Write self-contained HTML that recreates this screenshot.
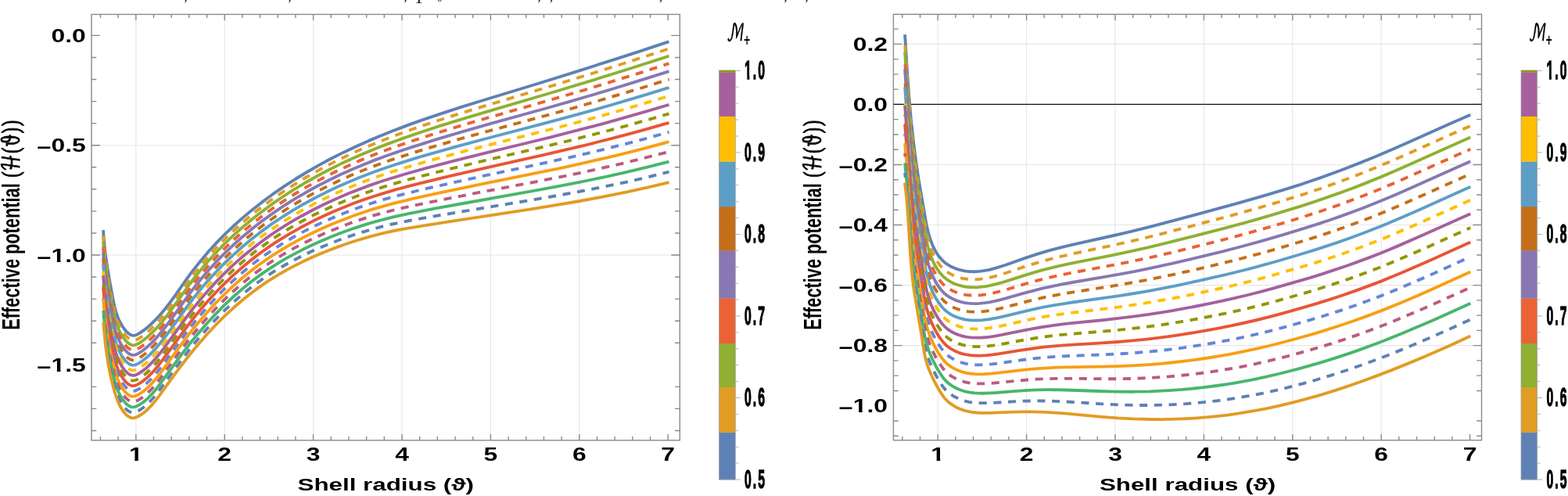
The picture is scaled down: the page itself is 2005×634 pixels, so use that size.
<!DOCTYPE html>
<html><head><meta charset="utf-8"><style>
html,body{margin:0;padding:0;background:#fff;overflow:hidden}
svg{display:block}
</style></head><body>
<svg width="2005" height="634" viewBox="0 0 2005 634">
<defs><clipPath id="c1"><rect x="-400" y="-400" width="800" height="396.72"/><rect x="-48.17" y="-400" width="14.59" height="420"/><rect x="-28.20" y="-400" width="3.52" height="420"/><rect x="-20.47" y="-400" width="7.15" height="420"/><rect x="-13.71" y="-400" width="13.91" height="420"/></clipPath><clipPath id="c2"><rect x="-400" y="-400" width="800" height="396.72"/><rect x="-48.17" y="-400" width="14.59" height="420"/><rect x="-28.20" y="-400" width="3.52" height="420"/><rect x="-20.47" y="-400" width="7.15" height="420"/><rect x="-13.71" y="-400" width="13.91" height="420"/></clipPath><clipPath id="c3"><rect x="-400" y="-400" width="800" height="396.72"/><rect x="-48.17" y="-400" width="14.59" height="420"/><rect x="-28.20" y="-400" width="3.52" height="420"/><rect x="-20.47" y="-400" width="7.15" height="420"/><rect x="-13.71" y="-400" width="13.91" height="420"/></clipPath><clipPath id="c4"><rect x="-400" y="-400" width="800" height="396.72"/><rect x="-1.18" y="-400" width="3.52" height="420"/></clipPath><clipPath id="c5"><rect x="-400" y="-400" width="800" height="396.72"/><rect x="-1.18" y="-400" width="3.52" height="420"/></clipPath><clipPath id="c6"><rect x="-400" y="-400" width="800" height="395.12"/><rect x="7.06" y="-400" width="6.17" height="420"/><rect x="22.69" y="-400" width="9.74" height="420"/><rect x="36.22" y="-400" width="19.09" height="420"/></clipPath><clipPath id="c7"><rect x="-400" y="-400" width="800" height="395.12"/><rect x="7.06" y="-400" width="6.17" height="420"/><rect x="22.69" y="-400" width="9.74" height="420"/><rect x="36.22" y="-400" width="19.09" height="420"/></clipPath></defs>
<rect width="2005" height="634" fill="#fff"/>
<line x1="173.80" y1="18.40" x2="173.80" y2="562.80" stroke="#e6e6e6" stroke-width="1.1"/>
<line x1="287.20" y1="18.40" x2="287.20" y2="562.80" stroke="#e6e6e6" stroke-width="1.1"/>
<line x1="400.60" y1="18.40" x2="400.60" y2="562.80" stroke="#e6e6e6" stroke-width="1.1"/>
<line x1="514.00" y1="18.40" x2="514.00" y2="562.80" stroke="#e6e6e6" stroke-width="1.1"/>
<line x1="627.40" y1="18.40" x2="627.40" y2="562.80" stroke="#e6e6e6" stroke-width="1.1"/>
<line x1="740.80" y1="18.40" x2="740.80" y2="562.80" stroke="#e6e6e6" stroke-width="1.1"/>
<line x1="117.00" y1="185.70" x2="869.30" y2="185.70" stroke="#e6e6e6" stroke-width="1.1"/>
<line x1="117.00" y1="326.00" x2="869.30" y2="326.00" stroke="#e6e6e6" stroke-width="1.1"/>
<rect x="117.00" y="18.40" width="752.30" height="544.40" fill="none" stroke="#8a8a8a" stroke-width="1.4"/>
<path d="M128.44 562.80v-4.7M128.44 18.40v4.7M151.12 562.80v-4.7M151.12 18.40v4.7M173.80 562.80v-7.7M173.80 18.40v7.7M196.48 562.80v-4.7M196.48 18.40v4.7M219.16 562.80v-4.7M219.16 18.40v4.7M241.84 562.80v-4.7M241.84 18.40v4.7M264.52 562.80v-4.7M264.52 18.40v4.7M287.20 562.80v-7.7M287.20 18.40v7.7M309.88 562.80v-4.7M309.88 18.40v4.7M332.56 562.80v-4.7M332.56 18.40v4.7M355.24 562.80v-4.7M355.24 18.40v4.7M377.92 562.80v-4.7M377.92 18.40v4.7M400.60 562.80v-7.7M400.60 18.40v7.7M423.28 562.80v-4.7M423.28 18.40v4.7M445.96 562.80v-4.7M445.96 18.40v4.7M468.64 562.80v-4.7M468.64 18.40v4.7M491.32 562.80v-4.7M491.32 18.40v4.7M514.00 562.80v-7.7M514.00 18.40v7.7M536.68 562.80v-4.7M536.68 18.40v4.7M559.36 562.80v-4.7M559.36 18.40v4.7M582.04 562.80v-4.7M582.04 18.40v4.7M604.72 562.80v-4.7M604.72 18.40v4.7M627.40 562.80v-7.7M627.40 18.40v7.7M650.08 562.80v-4.7M650.08 18.40v4.7M672.76 562.80v-4.7M672.76 18.40v4.7M695.44 562.80v-4.7M695.44 18.40v4.7M718.12 562.80v-4.7M718.12 18.40v4.7M740.80 562.80v-7.7M740.80 18.40v7.7M763.48 562.80v-4.7M763.48 18.40v4.7M786.16 562.80v-4.7M786.16 18.40v4.7M808.84 562.80v-4.7M808.84 18.40v4.7M831.52 562.80v-4.7M831.52 18.40v4.7M854.20 562.80v-7.7M854.20 18.40v7.7M117.00 45.40h11M869.30 45.40h-11M117.00 185.70h11M869.30 185.70h-11M117.00 326.00h11M869.30 326.00h-11M117.00 550.48h6.3M869.30 550.48h-6.3M117.00 522.42h6.3M869.30 522.42h-6.3M117.00 494.36h6.3M869.30 494.36h-6.3M117.00 438.24h6.3M869.30 438.24h-6.3M117.00 410.18h6.3M869.30 410.18h-6.3M117.00 382.12h6.3M869.30 382.12h-6.3M117.00 354.06h6.3M869.30 354.06h-6.3M117.00 297.94h6.3M869.30 297.94h-6.3M117.00 269.88h6.3M869.30 269.88h-6.3M117.00 241.82h6.3M869.30 241.82h-6.3M117.00 213.76h6.3M869.30 213.76h-6.3M117.00 157.64h6.3M869.30 157.64h-6.3M117.00 129.58h6.3M869.30 129.58h-6.3M117.00 101.52h6.3M869.30 101.52h-6.3M117.00 73.46h6.3M869.30 73.46h-6.3" stroke="#8a8a8a" stroke-width="1.4" fill="none"/>
<line x1="1199.20" y1="18.30" x2="1199.20" y2="562.70" stroke="#e6e6e6" stroke-width="1.1"/>
<line x1="1312.60" y1="18.30" x2="1312.60" y2="562.70" stroke="#e6e6e6" stroke-width="1.1"/>
<line x1="1426.00" y1="18.30" x2="1426.00" y2="562.70" stroke="#e6e6e6" stroke-width="1.1"/>
<line x1="1539.40" y1="18.30" x2="1539.40" y2="562.70" stroke="#e6e6e6" stroke-width="1.1"/>
<line x1="1652.80" y1="18.30" x2="1652.80" y2="562.70" stroke="#e6e6e6" stroke-width="1.1"/>
<line x1="1766.20" y1="18.30" x2="1766.20" y2="562.70" stroke="#e6e6e6" stroke-width="1.1"/>
<line x1="1142.40" y1="56.34" x2="1894.50" y2="56.34" stroke="#e6e6e6" stroke-width="1.1"/>
<line x1="1142.40" y1="210.46" x2="1894.50" y2="210.46" stroke="#e6e6e6" stroke-width="1.1"/>
<line x1="1142.40" y1="287.52" x2="1894.50" y2="287.52" stroke="#e6e6e6" stroke-width="1.1"/>
<line x1="1142.40" y1="364.58" x2="1894.50" y2="364.58" stroke="#e6e6e6" stroke-width="1.1"/>
<line x1="1142.40" y1="441.64" x2="1894.50" y2="441.64" stroke="#e6e6e6" stroke-width="1.1"/>
<rect x="1142.40" y="18.30" width="752.10" height="544.40" fill="none" stroke="#8a8a8a" stroke-width="1.4"/>
<path d="M1153.84 562.70v-4.7M1153.84 18.30v4.7M1176.52 562.70v-4.7M1176.52 18.30v4.7M1199.20 562.70v-7.7M1199.20 18.30v7.7M1221.88 562.70v-4.7M1221.88 18.30v4.7M1244.56 562.70v-4.7M1244.56 18.30v4.7M1267.24 562.70v-4.7M1267.24 18.30v4.7M1289.92 562.70v-4.7M1289.92 18.30v4.7M1312.60 562.70v-7.7M1312.60 18.30v7.7M1335.28 562.70v-4.7M1335.28 18.30v4.7M1357.96 562.70v-4.7M1357.96 18.30v4.7M1380.64 562.70v-4.7M1380.64 18.30v4.7M1403.32 562.70v-4.7M1403.32 18.30v4.7M1426.00 562.70v-7.7M1426.00 18.30v7.7M1448.68 562.70v-4.7M1448.68 18.30v4.7M1471.36 562.70v-4.7M1471.36 18.30v4.7M1494.04 562.70v-4.7M1494.04 18.30v4.7M1516.72 562.70v-4.7M1516.72 18.30v4.7M1539.40 562.70v-7.7M1539.40 18.30v7.7M1562.08 562.70v-4.7M1562.08 18.30v4.7M1584.76 562.70v-4.7M1584.76 18.30v4.7M1607.44 562.70v-4.7M1607.44 18.30v4.7M1630.12 562.70v-4.7M1630.12 18.30v4.7M1652.80 562.70v-7.7M1652.80 18.30v7.7M1675.48 562.70v-4.7M1675.48 18.30v4.7M1698.16 562.70v-4.7M1698.16 18.30v4.7M1720.84 562.70v-4.7M1720.84 18.30v4.7M1743.52 562.70v-4.7M1743.52 18.30v4.7M1766.20 562.70v-7.7M1766.20 18.30v7.7M1788.88 562.70v-4.7M1788.88 18.30v4.7M1811.56 562.70v-4.7M1811.56 18.30v4.7M1834.24 562.70v-4.7M1834.24 18.30v4.7M1856.92 562.70v-4.7M1856.92 18.30v4.7M1879.60 562.70v-7.7M1879.60 18.30v7.7M1142.40 56.34h11M1894.50 56.34h-11M1142.40 133.40h11M1894.50 133.40h-11M1142.40 210.46h11M1894.50 210.46h-11M1142.40 287.52h11M1894.50 287.52h-11M1142.40 364.58h11M1894.50 364.58h-11M1142.40 441.64h11M1894.50 441.64h-11M1142.40 557.23h6.3M1894.50 557.23h-6.3M1142.40 537.97h6.3M1894.50 537.97h-6.3M1142.40 499.43h6.3M1894.50 499.43h-6.3M1142.40 480.17h6.3M1894.50 480.17h-6.3M1142.40 460.90h6.3M1894.50 460.90h-6.3M1142.40 422.38h6.3M1894.50 422.38h-6.3M1142.40 403.11h6.3M1894.50 403.11h-6.3M1142.40 383.85h6.3M1894.50 383.85h-6.3M1142.40 345.32h6.3M1894.50 345.32h-6.3M1142.40 326.05h6.3M1894.50 326.05h-6.3M1142.40 306.79h6.3M1894.50 306.79h-6.3M1142.40 268.25h6.3M1894.50 268.25h-6.3M1142.40 248.99h6.3M1894.50 248.99h-6.3M1142.40 229.73h6.3M1894.50 229.73h-6.3M1142.40 191.19h6.3M1894.50 191.19h-6.3M1142.40 171.93h6.3M1894.50 171.93h-6.3M1142.40 152.67h6.3M1894.50 152.67h-6.3M1142.40 114.14h6.3M1894.50 114.14h-6.3M1142.40 94.87h6.3M1894.50 94.87h-6.3M1142.40 75.61h6.3M1894.50 75.61h-6.3M1142.40 37.08h6.3M1894.50 37.08h-6.3" stroke="#8a8a8a" stroke-width="1.4" fill="none"/>
<line x1="1142.40" y1="133.40" x2="1894.50" y2="133.40" stroke="#111" stroke-width="1.3"/>
<text transform="translate(109.80,54.00) scale(1.31,1)" text-anchor="end" style="font-family:'Liberation Sans',Arial,sans-serif;font-weight:bold;font-size:24.3px">0.0</text>
<text transform="translate(109.80,194.30) scale(1.31,1)" text-anchor="end" style="font-family:'Liberation Sans',Arial,sans-serif;font-weight:bold;font-size:24.3px"><tspan dy="2.9">−</tspan><tspan dy="-2.9">0.5</tspan></text>
<text transform="translate(109.80,334.60) scale(1.31,1)" text-anchor="end" clip-path="url(#c1)" style="font-family:'Liberation Sans',Arial,sans-serif;font-weight:bold;font-size:24.3px"><tspan dy="2.9">−</tspan><tspan dy="-2.9">1.0</tspan></text>
<text transform="translate(109.80,474.90) scale(1.31,1)" text-anchor="end" clip-path="url(#c2)" style="font-family:'Liberation Sans',Arial,sans-serif;font-weight:bold;font-size:24.3px"><tspan dy="2.9">−</tspan><tspan dy="-2.9">1.5</tspan></text>
<text transform="translate(1135.00,64.64) scale(1.31,1)" text-anchor="end" style="font-family:'Liberation Sans',Arial,sans-serif;font-weight:bold;font-size:24.3px">0.2</text>
<text transform="translate(1135.00,141.70) scale(1.31,1)" text-anchor="end" style="font-family:'Liberation Sans',Arial,sans-serif;font-weight:bold;font-size:24.3px">0.0</text>
<text transform="translate(1135.00,218.76) scale(1.31,1)" text-anchor="end" style="font-family:'Liberation Sans',Arial,sans-serif;font-weight:bold;font-size:24.3px"><tspan dy="2.9">−</tspan><tspan dy="-2.9">0.2</tspan></text>
<text transform="translate(1135.00,295.82) scale(1.31,1)" text-anchor="end" style="font-family:'Liberation Sans',Arial,sans-serif;font-weight:bold;font-size:24.3px"><tspan dy="2.9">−</tspan><tspan dy="-2.9">0.4</tspan></text>
<text transform="translate(1135.00,372.88) scale(1.31,1)" text-anchor="end" style="font-family:'Liberation Sans',Arial,sans-serif;font-weight:bold;font-size:24.3px"><tspan dy="2.9">−</tspan><tspan dy="-2.9">0.6</tspan></text>
<text transform="translate(1135.00,449.94) scale(1.31,1)" text-anchor="end" style="font-family:'Liberation Sans',Arial,sans-serif;font-weight:bold;font-size:24.3px"><tspan dy="2.9">−</tspan><tspan dy="-2.9">0.8</tspan></text>
<text transform="translate(1135.00,527.00) scale(1.31,1)" text-anchor="end" clip-path="url(#c3)" style="font-family:'Liberation Sans',Arial,sans-serif;font-weight:bold;font-size:24.3px"><tspan dy="2.9">−</tspan><tspan dy="-2.9">1.0</tspan></text>
<text transform="translate(173.80,589.00) scale(1.31,1)" text-anchor="middle" clip-path="url(#c4)" style="font-family:'Liberation Sans',Arial,sans-serif;font-weight:bold;font-size:24.3px">1</text>
<text transform="translate(287.20,589.00) scale(1.31,1)" text-anchor="middle" style="font-family:'Liberation Sans',Arial,sans-serif;font-weight:bold;font-size:24.3px">2</text>
<text transform="translate(400.60,589.00) scale(1.31,1)" text-anchor="middle" style="font-family:'Liberation Sans',Arial,sans-serif;font-weight:bold;font-size:24.3px">3</text>
<text transform="translate(514.00,589.00) scale(1.31,1)" text-anchor="middle" style="font-family:'Liberation Sans',Arial,sans-serif;font-weight:bold;font-size:24.3px">4</text>
<text transform="translate(627.40,589.00) scale(1.31,1)" text-anchor="middle" style="font-family:'Liberation Sans',Arial,sans-serif;font-weight:bold;font-size:24.3px">5</text>
<text transform="translate(740.80,589.00) scale(1.31,1)" text-anchor="middle" style="font-family:'Liberation Sans',Arial,sans-serif;font-weight:bold;font-size:24.3px">6</text>
<text transform="translate(854.20,589.00) scale(1.31,1)" text-anchor="middle" style="font-family:'Liberation Sans',Arial,sans-serif;font-weight:bold;font-size:24.3px">7</text>
<text transform="translate(1199.20,589.00) scale(1.31,1)" text-anchor="middle" clip-path="url(#c5)" style="font-family:'Liberation Sans',Arial,sans-serif;font-weight:bold;font-size:24.3px">1</text>
<text transform="translate(1312.60,589.00) scale(1.31,1)" text-anchor="middle" style="font-family:'Liberation Sans',Arial,sans-serif;font-weight:bold;font-size:24.3px">2</text>
<text transform="translate(1426.00,589.00) scale(1.31,1)" text-anchor="middle" style="font-family:'Liberation Sans',Arial,sans-serif;font-weight:bold;font-size:24.3px">3</text>
<text transform="translate(1539.40,589.00) scale(1.31,1)" text-anchor="middle" style="font-family:'Liberation Sans',Arial,sans-serif;font-weight:bold;font-size:24.3px">4</text>
<text transform="translate(1652.80,589.00) scale(1.31,1)" text-anchor="middle" style="font-family:'Liberation Sans',Arial,sans-serif;font-weight:bold;font-size:24.3px">5</text>
<text transform="translate(1766.20,589.00) scale(1.31,1)" text-anchor="middle" style="font-family:'Liberation Sans',Arial,sans-serif;font-weight:bold;font-size:24.3px">6</text>
<text transform="translate(1879.60,589.00) scale(1.31,1)" text-anchor="middle" style="font-family:'Liberation Sans',Arial,sans-serif;font-weight:bold;font-size:24.3px">7</text>
<text transform="translate(493.19,627.2) scale(1.393,1)" text-anchor="middle" style="font-family:'Liberation Sans',Arial,sans-serif;font-weight:bold;font-size:22.5px">Shell radius (ϑ)</text>
<text transform="translate(1518.59,627.2) scale(1.393,1)" text-anchor="middle" style="font-family:'Liberation Sans',Arial,sans-serif;font-weight:bold;font-size:22.5px">Shell radius (ϑ)</text>
<text transform="translate(24.80,287) scale(1.38,0.9675) rotate(-90)" text-anchor="middle" style="font-family:'Liberation Sans',Arial,sans-serif;font-weight:bold;font-size:22.5px">Effective potential <tspan style="font-family:'DejaVu Math TeX Gyre','DejaVu Sans',sans-serif;font-weight:normal;stroke:#000;stroke-width:0.7px">(ℋ(ϑ))</tspan></text>
<text transform="translate(1050.00,287) scale(1.38,0.9675) rotate(-90)" text-anchor="middle" style="font-family:'Liberation Sans',Arial,sans-serif;font-weight:bold;font-size:22.5px">Effective potential <tspan style="font-family:'DejaVu Math TeX Gyre','DejaVu Sans',sans-serif;font-weight:normal;stroke:#000;stroke-width:0.7px">(ℋ(ϑ))</tspan></text>
<text x="235.5" y="0.7" style="font-family:'Liberation Serif',serif;font-size:16px">,</text>
<text x="368.5" y="0.7" style="font-family:'Liberation Serif',serif;font-size:16px">,</text>
<text x="516.5" y="0.7" style="font-family:'Liberation Serif',serif;font-size:16px">,</text>
<text x="687.5" y="0.7" style="font-family:'Liberation Serif',serif;font-size:16px">,</text>
<text x="703.0" y="0.7" style="font-family:'Liberation Serif',serif;font-size:16px">,</text>
<text x="843.0" y="0.7" style="font-family:'Liberation Serif',serif;font-size:16px">,</text>
<text x="1002.5" y="0.7" style="font-family:'Liberation Serif',serif;font-size:16px">,</text>
<text x="1029.5" y="0.7" style="font-family:'Liberation Serif',serif;font-size:16px">,</text>
<text x="530.2" y="3.7" style="font-family:'Liberation Serif',serif;font-size:21px">1</text>
<text x="559.6" y="1.5" style="font-family:'Liberation Serif',serif;font-size:11px">o</text>
<rect x="919.5" y="552.50" width="20.80" height="60.80" fill="#5E81B5"/>
<rect x="919.5" y="495.10" width="20.80" height="57.70" fill="#E19C24"/>
<rect x="919.5" y="438.90" width="20.80" height="56.50" fill="#8FB032"/>
<rect x="919.5" y="381.30" width="20.80" height="57.90" fill="#EB6235"/>
<rect x="919.5" y="320.10" width="20.80" height="61.50" fill="#8778B3"/>
<rect x="919.5" y="264.00" width="20.80" height="56.40" fill="#C56E1A"/>
<rect x="919.5" y="206.30" width="20.80" height="58.00" fill="#5D9EC7"/>
<rect x="919.5" y="148.60" width="20.80" height="58.00" fill="#FFBF00"/>
<rect x="919.5" y="92.30" width="20.80" height="56.60" fill="#A5609D"/>
<rect x="919.5" y="89.90" width="20.80" height="2.70" fill="#929600"/>
<rect x="919.5" y="89.90" width="20.80" height="523.10" fill="none" stroke="#a0a0a0" stroke-width="0.8"/>
<path d="M940.30 613.00h6.5M940.30 592.10h4M940.30 571.19h4M940.30 550.29h4M940.30 529.38h4M940.30 508.48h6.5M940.30 487.58h4M940.30 466.67h4M940.30 445.77h4M940.30 424.86h4M940.30 403.96h6.5M940.30 383.06h4M940.30 362.15h4M940.30 341.25h4M940.30 320.34h4M940.30 299.44h6.5M940.30 278.54h4M940.30 257.63h4M940.30 236.73h4M940.30 215.82h4M940.30 194.92h6.5M940.30 174.02h4M940.30 153.11h4M940.30 132.21h4M940.30 111.30h4M940.30 90.40h6.5" stroke="#b0b0b0" stroke-width="1" fill="none"/>
<text transform="translate(952.10,623.70) scale(0.47,1)" style="font-family:'Liberation Sans',Arial,sans-serif;font-weight:bold;font-size:33.6px;letter-spacing:4.2px;stroke:#000;stroke-width:1.3px">0.5</text>
<text transform="translate(952.10,519.18) scale(0.47,1)" style="font-family:'Liberation Sans',Arial,sans-serif;font-weight:bold;font-size:33.6px;letter-spacing:4.2px;stroke:#000;stroke-width:1.3px">0.6</text>
<text transform="translate(952.10,414.66) scale(0.47,1)" style="font-family:'Liberation Sans',Arial,sans-serif;font-weight:bold;font-size:33.6px;letter-spacing:4.2px;stroke:#000;stroke-width:1.3px">0.7</text>
<text transform="translate(952.10,310.14) scale(0.47,1)" style="font-family:'Liberation Sans',Arial,sans-serif;font-weight:bold;font-size:33.6px;letter-spacing:4.2px;stroke:#000;stroke-width:1.3px">0.8</text>
<text transform="translate(952.10,205.62) scale(0.47,1)" style="font-family:'Liberation Sans',Arial,sans-serif;font-weight:bold;font-size:33.6px;letter-spacing:4.2px;stroke:#000;stroke-width:1.3px">0.9</text>
<text transform="translate(952.10,101.10) scale(0.47,1)" clip-path="url(#c6)" style="font-family:'Liberation Sans',Arial,sans-serif;font-weight:bold;font-size:33.6px;letter-spacing:4.2px;stroke:#000;stroke-width:1.3px">1.0</text>
<text transform="translate(929.00,52.3) scale(0.61,1)" style="font-family:'DejaVu Math TeX Gyre','DejaVu Sans',sans-serif;font-size:30px;stroke:#000;stroke-width:0.4px">ℳ</text>
<text transform="translate(950.50,56.5) scale(0.62,1)" style="font-family:'DejaVu Sans',sans-serif;font-weight:bold;font-size:18px">+</text>
<rect x="1945.0" y="552.50" width="20.60" height="60.80" fill="#5E81B5"/>
<rect x="1945.0" y="495.10" width="20.60" height="57.70" fill="#E19C24"/>
<rect x="1945.0" y="438.90" width="20.60" height="56.50" fill="#8FB032"/>
<rect x="1945.0" y="381.30" width="20.60" height="57.90" fill="#EB6235"/>
<rect x="1945.0" y="320.10" width="20.60" height="61.50" fill="#8778B3"/>
<rect x="1945.0" y="264.00" width="20.60" height="56.40" fill="#C56E1A"/>
<rect x="1945.0" y="206.30" width="20.60" height="58.00" fill="#5D9EC7"/>
<rect x="1945.0" y="148.60" width="20.60" height="58.00" fill="#FFBF00"/>
<rect x="1945.0" y="92.30" width="20.60" height="56.60" fill="#A5609D"/>
<rect x="1945.0" y="89.90" width="20.60" height="2.70" fill="#929600"/>
<rect x="1945.0" y="89.90" width="20.60" height="523.10" fill="none" stroke="#a0a0a0" stroke-width="0.8"/>
<path d="M1965.60 613.00h6.5M1965.60 592.10h4M1965.60 571.19h4M1965.60 550.29h4M1965.60 529.38h4M1965.60 508.48h6.5M1965.60 487.58h4M1965.60 466.67h4M1965.60 445.77h4M1965.60 424.86h4M1965.60 403.96h6.5M1965.60 383.06h4M1965.60 362.15h4M1965.60 341.25h4M1965.60 320.34h4M1965.60 299.44h6.5M1965.60 278.54h4M1965.60 257.63h4M1965.60 236.73h4M1965.60 215.82h4M1965.60 194.92h6.5M1965.60 174.02h4M1965.60 153.11h4M1965.60 132.21h4M1965.60 111.30h4M1965.60 90.40h6.5" stroke="#b0b0b0" stroke-width="1" fill="none"/>
<text transform="translate(1977.60,623.70) scale(0.47,1)" style="font-family:'Liberation Sans',Arial,sans-serif;font-weight:bold;font-size:33.6px;letter-spacing:4.2px;stroke:#000;stroke-width:1.3px">0.5</text>
<text transform="translate(1977.60,519.18) scale(0.47,1)" style="font-family:'Liberation Sans',Arial,sans-serif;font-weight:bold;font-size:33.6px;letter-spacing:4.2px;stroke:#000;stroke-width:1.3px">0.6</text>
<text transform="translate(1977.60,414.66) scale(0.47,1)" style="font-family:'Liberation Sans',Arial,sans-serif;font-weight:bold;font-size:33.6px;letter-spacing:4.2px;stroke:#000;stroke-width:1.3px">0.7</text>
<text transform="translate(1977.60,310.14) scale(0.47,1)" style="font-family:'Liberation Sans',Arial,sans-serif;font-weight:bold;font-size:33.6px;letter-spacing:4.2px;stroke:#000;stroke-width:1.3px">0.8</text>
<text transform="translate(1977.60,205.62) scale(0.47,1)" style="font-family:'Liberation Sans',Arial,sans-serif;font-weight:bold;font-size:33.6px;letter-spacing:4.2px;stroke:#000;stroke-width:1.3px">0.9</text>
<text transform="translate(1977.60,101.10) scale(0.47,1)" clip-path="url(#c7)" style="font-family:'Liberation Sans',Arial,sans-serif;font-weight:bold;font-size:33.6px;letter-spacing:4.2px;stroke:#000;stroke-width:1.3px">1.0</text>
<text transform="translate(1954.50,52.3) scale(0.61,1)" style="font-family:'DejaVu Math TeX Gyre','DejaVu Sans',sans-serif;font-size:30px;stroke:#000;stroke-width:0.4px">ℳ</text>
<text transform="translate(1976.00,56.5) scale(0.62,1)" style="font-family:'DejaVu Sans',sans-serif;font-weight:bold;font-size:18px">+</text>
<path d="M132.0 294.2 132.8 305.6 133.9 316.6 135.2 327.9 137.3 341.7 140.1 358.4 144.8 384.0 146.3 391.3 148.5 399.5 150.8 406.0 152.0 408.8 153.9 412.5 157.1 417.9 159.1 420.7 161.1 423.2 163.2 425.3 164.7 426.5 166.1 427.5 167.6 428.2 169.1 428.7 170.7 428.8 172.2 428.7 173.8 428.3 176.2 427.2 179.5 425.2 183.8 422.2 188.2 418.7 192.7 414.8 196.4 411.2 200.2 407.4 204.0 403.2 210.0 396.2 216.1 388.4 223.5 378.3 236.6 359.7 243.4 350.2 250.4 341.1 257.6 332.2 267.3 320.8 277.3 309.9 287.6 299.4 298.2 289.3 310.4 278.4 322.9 267.9 335.7 257.9 348.9 248.2 363.8 237.9 377.6 229.0 393.2 219.5 409.2 210.4 422.3 203.3 439.0 194.9 454.2 187.7 471.5 179.9 485.6 174.0 501.7 167.5 521.8 159.9 538.5 153.9 563.0 145.6 588.1 137.4 621.7 127.0 687.4 107.0 734.4 92.4 791.6 74.1 818.7 65.3 853.2 53.9 855.5 53.3" fill="none" stroke="#5E81B5" stroke-width="3.85" stroke-linejoin="round"/>
<path d="M132.0 301.4 132.8 312.5 134.1 325.8 135.2 334.9 137.3 348.8 140.1 365.4 144.2 388.0 146.3 397.9 148.5 405.9 150.8 412.4 152.0 415.2 153.9 418.9 157.1 424.3 159.1 427.0 161.1 429.5 162.5 430.9 164.7 432.8 166.1 433.7 167.6 434.4 169.1 434.9 170.7 435.0 172.2 434.9 173.8 434.5 176.2 433.4 179.5 431.4 182.9 429.0 187.3 425.6 190.8 422.5 195.4 418.2 199.2 414.4 203.1 410.2 209.0 403.2 215.1 395.5 223.5 384.1 242.3 357.6 249.2 348.4 256.4 339.5 266.1 328.1 277.3 315.8 287.6 305.3 298.2 295.2 310.4 284.3 322.9 273.8 335.7 263.8 348.9 254.1 362.3 244.9 376.1 236.0 391.7 226.5 406.0 218.4 419.0 211.4 435.6 203.0 450.8 195.8 466.3 188.9 482.1 182.3 498.1 175.9 518.1 168.5 534.7 162.6 561.1 153.7 592.0 143.9 623.7 134.3 700.1 111.4 758.4 93.5 802.9 79.4 853.2 63.0 855.5 62.4" fill="none" stroke="#E19C24" stroke-width="3.85" stroke-linejoin="round" stroke-dasharray="10.1 8.6" stroke-dashoffset="2.50"/>
<path d="M132.0 308.6 132.8 319.5 134.1 332.8 135.9 346.6 137.6 358.2 140.1 372.4 144.2 394.8 146.3 404.4 148.5 412.4 150.8 418.9 152.0 421.7 153.9 425.4 155.1 427.6 157.1 430.7 159.1 433.4 160.4 435.1 162.5 437.3 163.9 438.5 165.4 439.6 167.6 440.7 169.1 441.1 170.7 441.3 172.2 441.1 173.8 440.7 176.2 439.6 179.5 437.6 183.8 434.6 187.3 431.8 190.8 428.7 194.5 425.2 198.3 421.4 202.1 417.3 208.0 410.4 215.1 401.4 222.4 391.4 242.3 363.5 249.2 354.3 256.4 345.4 261.2 339.7 267.3 332.6 277.3 321.7 287.6 311.2 298.2 301.1 310.4 290.2 322.9 279.8 332.9 272.0 347.4 261.2 360.8 252.0 374.5 243.1 390.1 233.7 406.0 224.7 420.7 217.0 435.6 209.6 449.1 203.3 464.6 196.5 482.1 189.2 494.5 184.4 514.4 177.1 532.9 170.7 561.1 161.4 592.0 151.8 629.8 140.6 700.1 120.0 756.2 103.1 802.9 88.5 853.2 72.3 855.5 71.7" fill="none" stroke="#8FB032" stroke-width="3.85" stroke-linejoin="round"/>
<path d="M132.0 315.8 132.8 326.5 134.1 339.8 135.9 353.7 137.6 365.3 140.1 379.5 144.2 401.5 146.3 411.0 148.5 418.9 150.8 425.4 152.0 428.1 153.9 431.9 155.1 434.1 157.1 437.1 160.4 441.5 162.5 443.7 163.9 444.9 165.4 445.9 166.9 446.7 169.1 447.4 170.7 447.6 172.2 447.4 173.8 447.0 176.2 445.9 178.7 444.4 182.1 442.1 186.4 438.8 189.9 435.7 193.6 432.3 197.3 428.6 201.1 424.5 207.0 417.6 214.0 408.6 220.3 400.2 242.3 369.5 249.2 360.3 257.6 350.0 267.3 338.7 277.3 327.8 287.6 317.3 298.2 307.2 310.4 296.3 322.9 285.9 335.7 275.9 348.9 266.3 362.3 257.2 376.1 248.5 390.1 240.1 404.4 232.1 417.4 225.3 433.9 217.1 447.4 210.9 462.9 204.1 480.3 197.0 492.8 192.3 509.0 186.4 529.1 179.5 557.3 170.4 576.5 164.5 595.9 158.7 629.8 148.9 702.2 128.2 749.6 114.3 800.6 98.7 825.6 90.8 853.2 81.9 855.5 81.3" fill="none" stroke="#EB6235" stroke-width="3.85" stroke-linejoin="round" stroke-dasharray="10.1 8.6" stroke-dashoffset="1.65"/>
<path d="M132.0 323.1 132.8 333.5 134.1 346.8 135.9 360.8 137.6 372.5 140.1 386.6 144.2 408.3 146.3 417.7 148.5 425.5 149.7 428.9 151.4 433.3 153.9 438.4 155.8 441.7 157.1 443.6 159.1 446.3 161.1 448.7 163.2 450.8 164.7 451.9 166.1 452.8 167.6 453.4 169.1 453.8 170.7 453.9 172.2 453.7 173.8 453.3 176.2 452.2 179.5 450.2 183.8 447.1 187.3 444.3 193.6 438.6 198.3 433.8 201.1 430.6 208.0 422.4 215.1 413.2 220.3 406.2 242.3 375.5 250.4 364.9 257.6 356.1 267.3 344.8 277.3 333.9 286.3 324.7 298.2 313.3 310.4 302.4 322.9 292.0 335.7 282.1 348.9 272.6 363.8 262.5 377.6 253.9 393.2 244.8 406.0 237.8 422.3 229.5 435.6 223.1 449.1 217.0 464.6 210.5 478.6 204.9 494.5 199.0 512.6 192.7 527.3 187.8 557.3 178.3 592.0 168.1 627.8 157.9 698.0 138.5 725.7 130.6 751.8 123.0 780.5 114.5 802.9 107.7 830.1 99.2 853.2 91.8 855.5 91.2" fill="none" stroke="#8778B3" stroke-width="3.85" stroke-linejoin="round"/>
<path d="M132.0 330.3 132.8 340.5 134.1 353.9 135.9 367.9 137.6 379.7 140.1 393.7 144.2 415.2 146.3 424.4 148.5 432.1 150.8 438.5 152.0 441.3 153.9 445.0 155.1 447.2 157.1 450.2 159.1 452.9 160.4 454.5 162.5 456.6 163.9 457.8 165.4 458.8 166.9 459.6 168.4 460.1 169.9 460.3 171.4 460.3 173.0 459.9 175.4 459.0 177.9 457.7 182.1 454.8 185.5 452.2 188.2 449.9 191.8 446.7 195.4 443.0 199.2 439.0 205.0 432.2 212.0 423.4 220.3 412.2 235.5 390.9 242.3 381.6 250.4 371.1 257.6 362.3 267.3 351.0 277.3 340.1 286.3 330.9 298.2 319.5 310.4 308.7 322.9 298.3 335.7 288.4 347.4 280.0 359.3 271.9 374.5 262.3 388.5 254.0 396.4 249.6 404.4 245.3 419.0 237.9 433.9 230.8 449.1 224.1 462.9 218.3 476.8 212.9 491.0 207.7 503.5 203.3 523.6 196.8 553.5 187.6 588.1 177.6 629.8 166.1 693.7 148.9 725.7 140.1 747.4 134.0 778.2 125.0 800.6 118.3 823.3 111.5 853.2 102.1 855.5 101.5" fill="none" stroke="#C56E1A" stroke-width="3.85" stroke-linejoin="round" stroke-dasharray="10.1 8.6" stroke-dashoffset="-0.30"/>
<path d="M132.0 337.6 133.2 351.8 134.4 363.3 135.9 375.1 138.0 389.2 140.9 405.6 144.2 422.1 146.3 431.1 148.5 438.8 150.8 445.1 152.0 447.9 153.9 451.6 155.1 453.8 157.1 456.8 160.4 461.0 162.5 463.1 163.9 464.3 165.4 465.3 166.9 466.1 168.4 466.6 169.9 466.8 171.4 466.7 173.0 466.4 175.4 465.4 177.9 464.1 182.1 461.3 185.5 458.6 188.2 456.4 191.8 453.1 195.4 449.4 199.2 445.3 205.0 438.4 212.0 429.5 220.3 418.3 240.0 390.9 246.9 381.8 255.2 371.4 260.0 365.6 266.1 358.6 274.8 349.1 285.0 338.5 296.9 327.1 309.0 316.2 321.5 305.8 332.9 296.9 340.1 291.6 347.4 286.4 362.3 276.5 374.5 268.9 388.5 260.7 402.8 253.0 417.4 245.6 432.3 238.6 445.7 232.7 459.4 227.0 475.0 221.0 487.4 216.5 499.9 212.2 519.9 205.8 536.6 200.7 551.6 196.3 586.2 186.7 629.8 175.0 700.1 156.7 727.9 149.2 751.8 142.6 780.5 134.5 802.9 127.9 825.6 121.1 853.2 112.6 855.5 112.0" fill="none" stroke="#5D9EC7" stroke-width="3.85" stroke-linejoin="round"/>
<path d="M132.0 345.0 133.2 358.9 134.4 370.4 136.2 384.7 138.0 396.5 140.1 408.1 143.8 426.6 146.3 437.8 148.5 445.4 150.8 451.8 153.2 457.0 154.5 459.3 156.4 462.4 159.7 466.9 161.8 469.1 163.2 470.3 165.4 471.9 166.9 472.6 168.4 473.1 169.9 473.3 171.4 473.2 173.0 472.9 175.4 471.9 177.9 470.6 181.2 468.4 184.6 465.8 188.2 462.9 191.8 459.5 198.3 452.7 204.0 445.9 209.0 439.7 218.2 427.3 234.4 404.8 241.1 395.6 248.1 386.6 256.4 376.3 267.3 363.6 277.3 352.7 287.6 342.3 298.2 332.2 310.4 321.4 322.9 311.1 334.3 302.3 347.4 293.0 359.3 285.0 374.5 275.6 390.1 266.7 402.8 259.9 415.8 253.4 430.6 246.5 444.0 240.7 459.4 234.4 475.0 228.5 489.2 223.5 501.7 219.4 519.9 213.8 549.7 205.2 586.2 195.4 627.8 184.6 672.8 173.3 704.3 165.3 751.8 152.8 776.0 146.1 805.1 137.8 832.4 129.7 853.2 123.4 855.5 122.8" fill="none" stroke="#FFBF00" stroke-width="3.85" stroke-linejoin="round" stroke-dasharray="10.1 8.6" stroke-dashoffset="-1.65"/>
<path d="M132.0 352.3 133.2 366.0 134.4 377.5 136.2 391.9 138.0 403.7 140.9 419.9 143.8 433.6 146.3 444.6 148.5 452.1 149.7 455.4 151.4 459.9 153.9 464.9 155.1 467.1 157.1 470.1 159.1 472.7 160.4 474.3 163.2 477.0 165.4 478.5 166.9 479.2 168.4 479.7 169.9 479.9 171.4 479.8 173.0 479.4 175.4 478.5 177.9 477.1 181.2 474.9 184.6 472.4 188.2 469.4 191.8 466.0 194.5 463.2 198.3 459.2 204.0 452.3 209.0 445.9 217.1 434.9 240.0 403.4 246.9 394.4 255.2 384.1 264.9 372.8 274.8 361.9 285.0 351.3 296.9 339.9 309.0 329.1 320.1 319.9 332.9 310.0 344.4 301.6 356.3 293.7 371.4 284.2 385.4 276.2 401.2 267.7 415.8 260.6 430.6 253.8 445.7 247.3 457.7 242.6 471.5 237.4 485.6 232.5 498.1 228.5 516.3 223.0 544.1 215.2 582.3 205.2 629.8 193.4 670.7 183.5 702.2 175.8 749.6 163.7 773.8 157.3 802.9 149.2 825.6 142.7 853.2 134.5 855.5 133.9" fill="none" stroke="#A5609D" stroke-width="3.85" stroke-linejoin="round"/>
<path d="M132.0 359.7 133.2 373.1 134.9 389.5 136.6 401.6 138.0 411.0 140.9 427.1 143.8 440.6 146.3 451.4 148.5 458.9 150.8 465.2 152.0 467.9 153.9 471.6 155.1 473.8 157.1 476.8 159.1 479.4 160.4 481.0 162.5 483.0 163.9 484.2 165.4 485.1 166.9 485.9 168.4 486.3 169.9 486.5 171.4 486.4 173.0 486.0 175.4 485.1 177.9 483.8 181.2 481.6 184.6 479.0 188.2 476.0 190.8 473.5 193.6 470.8 197.3 466.7 203.1 459.9 208.0 453.6 215.1 444.1 231.1 422.0 240.0 409.8 246.9 400.9 255.2 390.6 263.6 380.7 274.8 368.4 286.3 356.6 296.9 346.5 309.0 335.7 318.7 327.6 325.7 322.0 332.9 316.6 344.4 308.4 351.8 303.4 359.3 298.6 371.4 291.1 380.7 285.8 388.5 281.5 401.2 274.8 412.5 269.4 425.6 263.3 440.6 256.9 452.5 252.2 464.6 247.6 478.6 242.7 492.8 238.1 505.3 234.4 519.9 230.2 536.6 225.8 555.4 220.9 576.5 215.7 629.8 202.9 668.6 193.9 702.2 186.0 725.7 180.3 749.6 174.3 776.0 167.5 802.9 160.3 827.9 153.3 855.5 145.3" fill="none" stroke="#929600" stroke-width="3.85" stroke-linejoin="round" stroke-dasharray="10.1 8.6" stroke-dashoffset="-3.60"/>
<path d="M132.0 367.0 133.4 382.5 134.9 396.7 136.6 408.9 138.4 420.7 140.9 434.3 143.8 447.6 146.3 458.2 148.5 465.6 150.8 471.9 152.0 474.7 153.9 478.4 155.8 481.6 157.1 483.5 159.7 486.9 161.1 488.4 163.2 490.4 164.7 491.4 166.1 492.2 167.6 492.8 169.1 493.1 171.4 493.1 173.0 492.7 175.4 491.7 177.9 490.4 181.2 488.2 184.6 485.6 188.2 482.7 190.8 480.1 196.4 474.4 201.1 468.8 207.0 461.4 238.9 417.8 246.9 407.4 255.2 397.2 266.1 384.5 277.3 372.4 287.6 362.0 298.2 351.9 310.4 341.2 321.5 332.1 331.4 324.5 344.4 315.2 356.3 307.4 369.9 299.1 385.4 290.3 401.2 282.1 412.5 276.7 425.6 270.8 439.0 265.2 452.5 259.8 464.6 255.4 478.6 250.7 491.0 246.8 505.3 242.6 519.9 238.7 534.7 234.8 572.6 225.7 629.8 212.6 698.0 197.4 725.7 190.9 747.4 185.8 782.7 176.9 807.4 170.4 825.6 165.4 855.5 156.9" fill="none" stroke="#E95536" stroke-width="3.85" stroke-linejoin="round"/>
<path d="M132.0 374.4 133.4 389.6 134.9 404.0 136.6 416.2 138.4 428.0 140.9 441.6 143.8 454.7 146.3 465.1 148.5 472.5 150.8 478.7 152.0 481.5 153.9 485.2 155.1 487.4 157.1 490.3 159.1 492.9 160.4 494.5 162.5 496.5 163.9 497.7 165.4 498.6 166.9 499.3 168.4 499.7 169.9 499.9 171.4 499.8 173.0 499.4 175.4 498.4 177.9 497.1 180.4 495.5 183.8 493.1 187.3 490.2 189.9 487.7 193.6 484.1 196.4 481.0 201.1 475.4 207.0 467.9 232.2 433.3 240.0 422.8 246.9 414.0 255.2 403.8 264.9 392.6 276.1 380.4 287.6 368.7 298.2 358.7 310.4 348.0 322.9 337.8 330.0 332.4 335.7 328.2 347.4 320.2 360.8 311.6 374.5 303.5 388.5 295.9 402.8 288.7 414.1 283.4 428.9 277.0 440.6 272.2 454.2 267.0 464.6 263.3 478.6 258.7 492.8 254.4 505.3 251.0 518.1 247.7 532.9 244.0 572.6 234.9 623.7 223.7 672.8 213.4 702.2 207.0 727.9 201.3 749.6 196.3 776.0 190.0 802.9 183.2 823.3 177.8 855.5 168.9" fill="none" stroke="#6685D9" stroke-width="3.85" stroke-linejoin="round" stroke-dasharray="10.1 8.6" stroke-dashoffset="-5.70"/>
<path d="M132.0 381.9 133.6 399.1 134.9 411.2 136.6 423.5 138.0 433.1 140.1 444.5 142.8 457.6 145.3 468.1 147.9 477.6 150.2 484.1 152.6 489.6 154.5 493.1 155.8 495.2 157.7 498.1 159.1 499.8 161.1 502.0 162.5 503.3 164.7 505.0 166.1 505.8 167.6 506.4 169.1 506.6 170.7 506.6 172.2 506.4 174.6 505.6 177.1 504.4 180.4 502.3 183.8 499.9 187.3 496.9 189.9 494.5 195.4 488.8 200.2 483.2 205.0 477.1 229.9 442.9 238.9 430.9 246.9 420.6 254.0 412.0 263.6 400.7 274.8 388.5 286.3 376.8 298.2 365.5 309.0 356.0 320.1 346.9 331.4 338.3 337.2 334.2 344.4 329.2 356.3 321.5 369.9 313.4 385.4 304.9 399.6 297.7 414.1 291.0 425.6 286.1 439.0 280.7 450.8 276.2 462.9 272.0 476.8 267.4 489.2 263.8 503.5 259.9 516.3 256.8 529.1 253.7 564.9 245.9 621.7 234.2 695.9 219.2 717.1 214.8 743.0 209.1 776.0 201.6 802.9 195.1 827.9 188.7 855.5 181.2" fill="none" stroke="#F89F13" stroke-width="3.85" stroke-linejoin="round"/>
<path d="M132.0 389.3 133.6 406.3 134.9 418.5 136.6 430.9 138.4 442.8 140.5 454.1 143.3 466.9 145.8 477.0 147.9 484.5 150.2 491.0 152.6 496.5 154.5 500.0 155.8 502.1 157.1 504.0 159.1 506.6 160.4 508.2 162.5 510.2 164.7 511.8 166.1 512.6 167.6 513.2 169.1 513.5 170.7 513.5 172.2 513.2 174.6 512.4 177.1 511.2 180.4 509.2 182.9 507.4 188.2 503.0 190.8 500.4 194.5 496.6 199.2 491.1 205.0 483.7 226.7 453.9 237.7 439.1 245.7 428.8 254.0 418.8 260.0 411.7 266.1 404.8 277.3 392.8 287.6 382.4 298.2 372.5 309.0 363.0 315.9 357.2 322.9 351.7 334.3 343.3 340.1 339.2 347.4 334.4 359.3 326.9 371.4 319.8 379.1 315.6 386.9 311.5 401.2 304.5 412.5 299.4 425.6 293.9 435.6 289.9 450.8 284.2 464.6 279.6 476.8 275.7 491.0 271.7 503.5 268.5 518.1 265.1 529.1 262.7 566.8 255.0 611.8 246.2 685.3 232.3 719.3 225.6 743.0 220.7 769.4 214.9 798.4 208.3 830.1 200.4 855.5 193.8" fill="none" stroke="#BC5B80" stroke-width="3.85" stroke-linejoin="round" stroke-dasharray="10.1 8.6" stroke-dashoffset="-8.20"/>
<path d="M132.0 396.8 132.1 397.1 133.9 415.9 135.2 428.4 136.9 440.7 138.4 450.2 140.1 459.2 142.8 472.0 145.3 482.1 147.9 491.4 150.2 497.9 152.6 503.4 154.5 506.9 155.8 509.0 157.7 511.9 159.1 513.5 161.1 515.8 162.5 517.1 164.7 518.7 166.1 519.5 167.6 520.1 169.1 520.4 170.7 520.3 172.2 520.1 174.6 519.3 177.1 518.1 180.4 516.0 182.9 514.2 186.4 511.4 189.1 509.1 194.5 503.4 199.2 497.9 204.0 491.7 222.4 466.4 234.4 450.2 243.4 438.5 251.6 428.5 257.6 421.4 263.6 414.5 274.8 402.4 286.3 390.7 298.2 379.5 303.6 374.7 310.4 368.9 317.3 363.2 322.9 358.8 328.6 354.6 335.7 349.4 347.4 341.6 359.3 334.2 365.3 330.7 374.5 325.6 386.9 319.1 401.2 312.2 412.5 307.2 425.6 301.8 440.6 296.0 452.5 291.8 464.6 287.9 476.8 284.2 489.2 280.8 501.7 277.6 510.8 275.6 523.6 272.9 555.4 266.7 597.9 259.0 685.3 243.4 715.0 237.9 740.9 232.9 773.8 226.1 798.4 220.6 825.6 214.2 855.5 206.6" fill="none" stroke="#47B66D" stroke-width="3.85" stroke-linejoin="round"/>
<path d="M132.0 404.3 132.1 404.5 134.1 425.7 135.2 435.7 136.9 448.2 138.4 457.7 140.1 466.7 142.3 477.3 145.3 489.2 147.9 498.4 150.2 504.8 152.0 509.1 153.2 511.6 155.8 516.0 157.1 517.9 159.1 520.5 161.1 522.8 162.5 524.1 164.7 525.7 166.1 526.5 167.6 527.0 169.1 527.3 170.7 527.3 172.2 527.0 174.6 526.2 177.1 525.0 180.4 523.0 182.9 521.2 186.4 518.4 189.1 516.0 194.5 510.3 199.2 504.8 204.0 498.5 222.4 473.1 234.4 457.0 242.3 446.8 251.6 435.4 263.6 421.5 274.8 409.4 286.3 397.7 298.2 386.6 309.0 377.1 315.9 371.5 322.9 366.0 330.0 360.8 335.7 356.7 345.9 349.9 351.8 346.2 359.3 341.7 371.4 334.8 385.4 327.6 393.2 323.8 401.2 320.1 412.5 315.2 427.3 309.2 439.0 304.8 450.8 300.7 462.9 296.8 475.0 293.2 489.2 289.4 501.7 286.5 512.6 284.2 523.6 282.0 553.5 276.7 594.0 269.9 687.4 254.4 719.3 248.8 745.2 244.0 773.8 238.4 805.1 231.8 830.1 226.0 855.5 219.7" fill="none" stroke="#5E81B5" stroke-width="3.85" stroke-linejoin="round" stroke-dasharray="10.1 8.6" stroke-dashoffset="-9.70"/>
<path d="M132.0 411.8 132.1 411.9 133.9 430.5 135.2 443.1 136.9 455.6 138.4 465.2 140.1 474.1 142.3 484.6 145.3 496.3 147.9 505.3 150.2 511.8 152.0 516.0 153.2 518.6 155.8 523.0 157.7 525.8 159.1 527.5 161.1 529.8 162.5 531.1 164.7 532.7 166.1 533.5 167.6 534.0 169.1 534.3 170.7 534.3 172.2 534.0 174.6 533.2 177.1 532.0 180.4 530.0 182.9 528.2 185.5 526.2 188.2 523.8 190.8 521.2 193.6 518.3 199.2 511.7 204.0 505.4 221.3 481.3 232.2 466.7 242.3 453.8 251.6 442.4 262.4 429.9 267.3 424.5 274.8 416.5 286.3 404.9 298.2 393.8 310.4 383.2 321.5 374.4 332.9 366.1 340.1 361.1 345.9 357.4 353.3 352.8 359.3 349.2 368.4 344.1 374.5 340.9 386.9 334.6 402.8 327.3 414.1 322.5 427.3 317.4 440.6 312.5 454.2 308.0 466.3 304.3 476.8 301.4 491.0 297.8 503.5 295.0 518.1 292.3 542.2 288.3 580.3 282.3 679.0 267.3 710.7 262.2 738.7 257.5 771.6 251.4 800.6 245.7 830.1 239.2 855.5 233.2" fill="none" stroke="#E19C24" stroke-width="3.85" stroke-linejoin="round"/>
<path d="M1157.1 44.2 1159.8 87.9 1162.4 123.8 1164.7 150.7 1167.9 180.3 1170.9 203.9 1174.7 229.5 1183.5 280.8 1184.8 287.9 1186.9 297.0 1188.3 302.1 1190.5 308.5 1192.7 314.0 1194.2 317.2 1196.5 321.5 1198.9 325.3 1201.3 328.6 1204.6 332.3 1207.1 334.7 1210.6 337.4 1214.1 339.6 1217.7 341.5 1221.5 343.1 1226.2 344.7 1230.1 345.7 1235.0 346.6 1239.1 347.0 1243.2 347.2 1247.5 347.2 1251.8 346.9 1256.1 346.4 1260.5 345.7 1265.1 344.8 1269.6 343.7 1276.6 341.7 1285.0 339.0 1310.1 330.1 1320.6 326.6 1330.0 323.6 1343.7 319.7 1359.3 315.7 1375.3 311.9 1419.8 302.0 1439.1 297.6 1460.6 292.4 1479.2 287.6 1517.7 277.4 1584.1 259.3 1613.0 251.1 1640.6 242.9 1664.8 235.3 1687.3 227.6 1714.4 217.8 1739.8 207.9 1759.2 200.0 1783.2 189.8 1807.5 179.0 1852.7 158.8 1880.3 146.8" fill="none" stroke="#5E81B5" stroke-width="3.85" stroke-linejoin="round"/>
<path d="M1157.1 55.1 1159.8 97.7 1162.4 133.7 1164.7 161.1 1166.0 174.2 1167.9 190.8 1170.9 214.2 1174.7 239.6 1183.5 290.8 1184.8 297.9 1186.9 306.8 1188.3 311.8 1190.5 318.1 1192.7 323.6 1194.2 326.8 1196.5 331.1 1198.9 334.9 1201.3 338.2 1204.6 342.0 1207.1 344.4 1210.6 347.2 1214.1 349.4 1217.7 351.4 1221.5 353.0 1226.2 354.6 1231.1 355.8 1235.0 356.5 1239.1 357.0 1243.2 357.2 1247.5 357.1 1251.8 356.9 1256.1 356.4 1260.5 355.8 1265.1 354.9 1269.6 353.8 1276.6 352.0 1283.8 349.8 1310.1 340.9 1320.6 337.6 1331.3 334.4 1342.3 331.4 1355.0 328.2 1373.9 323.9 1419.8 314.2 1435.9 310.7 1457.2 305.8 1479.2 300.4 1514.1 291.5 1578.4 274.4 1605.2 266.9 1636.7 257.7 1666.8 248.3 1689.4 240.7 1714.4 231.8 1739.8 222.0 1759.2 214.2 1781.0 205.0 1798.7 197.2 1857.2 171.0 1880.3 161.0" fill="none" stroke="#E19C24" stroke-width="3.85" stroke-linejoin="round" stroke-dasharray="10.1 8.6" stroke-dashoffset="-2.90"/>
<path d="M1157.1 66.1 1159.8 107.6 1162.7 148.5 1165.2 176.2 1167.9 201.4 1170.9 224.6 1174.7 249.8 1183.5 301.1 1184.8 307.9 1186.9 316.7 1188.3 321.6 1190.5 327.9 1192.7 333.3 1194.2 336.5 1196.5 340.8 1198.9 344.6 1201.3 347.9 1204.6 351.8 1207.1 354.3 1210.6 357.1 1214.1 359.4 1217.7 361.4 1221.5 363.0 1225.2 364.3 1230.1 365.7 1235.0 366.6 1239.1 367.1 1242.2 367.2 1247.5 367.3 1250.7 367.1 1258.3 366.3 1262.8 365.6 1268.5 364.4 1275.5 362.7 1283.8 360.4 1308.8 352.4 1321.9 348.4 1331.3 345.7 1342.3 342.9 1353.6 340.2 1370.9 336.4 1423.0 326.1 1444.0 321.6 1465.6 316.8 1484.4 312.4 1521.3 303.2 1567.1 291.3 1599.5 282.6 1628.7 274.2 1664.8 263.1 1687.3 255.7 1712.3 246.9 1729.2 240.7 1739.8 236.6 1763.5 227.1 1783.2 218.7 1807.5 208.0 1855.0 186.7 1880.3 175.6" fill="none" stroke="#8FB032" stroke-width="3.85" stroke-linejoin="round"/>
<path d="M1157.1 77.2 1160.0 121.8 1163.1 163.6 1165.6 191.3 1167.9 212.2 1170.9 235.1 1174.7 260.2 1182.8 307.7 1184.8 318.2 1186.2 324.1 1187.6 329.2 1189.8 335.8 1192.0 341.4 1194.2 346.3 1196.5 350.6 1198.9 354.4 1202.1 358.9 1204.6 361.8 1207.1 364.3 1210.6 367.2 1214.1 369.5 1217.7 371.5 1221.5 373.2 1226.2 374.8 1230.1 375.9 1235.0 376.8 1239.1 377.3 1242.2 377.5 1246.4 377.6 1250.7 377.5 1255.0 377.1 1260.5 376.4 1269.6 374.7 1277.8 372.7 1283.8 371.1 1307.5 363.9 1321.9 359.8 1331.3 357.3 1339.5 355.3 1353.6 352.1 1368.0 349.1 1423.0 338.9 1442.4 335.1 1463.9 330.6 1484.4 326.0 1517.7 318.1 1559.7 307.6 1593.7 298.6 1622.8 290.4 1640.6 285.1 1666.8 277.1 1687.3 270.5 1701.8 265.5 1716.5 260.3 1742.0 250.7 1765.7 241.3 1785.4 232.9 1807.5 223.1 1859.5 199.8 1880.3 190.7" fill="none" stroke="#EB6235" stroke-width="3.85" stroke-linejoin="round" stroke-dasharray="10.1 8.6" stroke-dashoffset="-5.10"/>
<path d="M1157.1 88.5 1160.3 136.2 1163.5 179.0 1165.6 202.2 1167.9 223.1 1170.9 245.8 1174.7 270.6 1182.8 318.2 1184.8 328.5 1186.2 334.3 1187.6 339.3 1189.8 345.8 1191.2 349.6 1193.5 354.7 1196.5 360.5 1198.9 364.4 1201.3 367.8 1204.6 371.9 1208.0 375.3 1210.6 377.4 1214.1 379.8 1216.8 381.3 1221.5 383.5 1225.2 384.9 1229.1 386.0 1234.0 387.1 1238.1 387.6 1242.2 387.9 1247.5 388.1 1251.8 387.9 1259.4 387.2 1265.1 386.3 1269.6 385.4 1276.6 383.8 1285.0 381.7 1308.8 374.9 1323.2 371.1 1332.7 368.7 1343.7 366.3 1356.4 363.7 1370.9 361.0 1418.2 352.9 1449.0 347.3 1470.7 342.9 1498.2 336.9 1530.3 329.4 1561.5 321.8 1587.9 315.0 1613.0 308.2 1640.6 300.2 1666.8 292.2 1687.3 285.7 1699.7 281.5 1716.5 275.6 1742.0 266.2 1765.7 256.8 1783.2 249.4 1812.0 236.8 1859.5 215.4 1880.3 206.3" fill="none" stroke="#8778B3" stroke-width="3.85" stroke-linejoin="round"/>
<path d="M1157.1 99.9 1163.5 189.7 1165.6 213.3 1167.9 234.1 1170.9 256.6 1174.7 281.2 1182.8 328.9 1184.2 335.9 1186.2 344.7 1187.6 349.6 1189.8 356.0 1192.0 361.5 1194.2 366.3 1196.5 370.6 1199.7 375.7 1203.0 380.1 1205.5 383.1 1208.0 385.6 1211.5 388.4 1214.1 390.2 1217.7 392.3 1221.5 394.0 1226.2 395.7 1230.1 396.8 1235.0 397.8 1239.1 398.3 1243.2 398.6 1247.5 398.7 1251.8 398.6 1259.4 397.9 1265.1 397.1 1270.8 396.1 1283.8 393.1 1320.6 383.5 1331.3 381.0 1342.3 378.7 1356.4 376.1 1368.0 374.1 1418.2 366.3 1442.4 362.2 1467.3 357.7 1493.0 352.5 1521.3 346.3 1555.9 338.2 1582.2 331.8 1605.2 325.7 1622.8 320.9 1636.7 316.9 1666.8 307.8 1681.1 303.4 1695.6 298.6 1708.1 294.4 1722.8 289.2 1737.7 283.7 1752.7 278.0 1765.7 272.8 1787.6 263.6 1809.8 253.8 1880.3 222.3" fill="none" stroke="#C56E1A" stroke-width="3.85" stroke-linejoin="round" stroke-dasharray="10.1 8.6" stroke-dashoffset="-6.80"/>
<path d="M1157.1 111.4 1163.9 205.6 1165.6 224.5 1167.9 245.3 1170.9 267.6 1174.7 292.0 1182.8 339.7 1184.2 346.5 1186.2 355.2 1187.6 360.0 1189.8 366.3 1192.0 371.8 1194.2 376.6 1196.5 380.9 1199.7 386.0 1203.0 390.5 1205.5 393.5 1208.0 396.1 1211.5 399.0 1215.0 401.4 1218.7 403.4 1222.4 405.0 1226.2 406.4 1230.1 407.5 1235.0 408.6 1241.2 409.3 1248.5 409.5 1256.1 409.2 1265.1 408.1 1274.3 406.4 1282.6 404.6 1307.5 398.6 1324.6 394.6 1334.0 392.7 1346.5 390.4 1359.3 388.3 1370.9 386.5 1415.1 380.4 1429.4 378.4 1450.6 375.0 1470.7 371.6 1486.1 368.7 1501.8 365.6 1533.9 358.7 1567.1 351.1 1586.0 346.5 1599.5 343.1 1615.0 338.9 1632.7 334.0 1664.8 324.5 1679.1 320.1 1691.4 316.2 1708.1 310.6 1724.9 304.7 1739.8 299.3 1765.7 289.3 1787.6 280.0 1814.2 268.4 1880.3 238.8" fill="none" stroke="#5D9EC7" stroke-width="3.85" stroke-linejoin="round"/>
<path d="M1157.1 123.0 1163.9 216.7 1165.6 235.8 1167.4 252.6 1170.4 275.1 1174.2 299.4 1182.2 347.0 1184.2 357.4 1185.5 363.2 1186.9 368.2 1189.0 374.8 1191.2 380.4 1193.5 385.4 1196.5 391.2 1198.9 395.2 1202.1 399.9 1204.6 403.1 1207.1 405.9 1210.6 409.0 1213.2 410.9 1216.8 413.2 1220.5 415.0 1225.2 416.9 1230.1 418.4 1234.0 419.3 1237.1 419.8 1241.2 420.2 1248.5 420.6 1256.1 420.3 1263.9 419.4 1272.0 418.2 1280.2 416.6 1306.2 410.8 1323.2 407.2 1331.3 405.6 1343.7 403.5 1355.0 401.8 1369.5 399.9 1415.1 394.4 1427.8 392.8 1450.6 389.6 1469.0 386.7 1496.5 381.9 1510.6 379.2 1528.5 375.6 1563.4 368.0 1578.4 364.5 1595.6 360.3 1609.1 356.9 1628.7 351.5 1675.0 338.0 1691.4 332.9 1706.0 328.1 1722.8 322.2 1737.7 316.9 1752.7 311.2 1765.7 306.2 1785.4 297.9 1816.5 284.4 1880.3 255.8" fill="none" stroke="#FFBF00" stroke-width="3.85" stroke-linejoin="round" stroke-dasharray="10.1 8.6" stroke-dashoffset="-9.30"/>
<path d="M1157.1 134.8 1160.3 177.7 1163.9 227.9 1165.6 247.2 1167.4 264.1 1169.8 282.8 1172.0 296.8 1174.2 310.5 1178.3 334.9 1182.2 358.2 1184.2 368.3 1185.5 374.0 1186.9 379.0 1189.0 385.4 1191.2 390.9 1193.5 395.9 1196.5 401.8 1198.9 405.7 1202.1 410.5 1205.5 414.8 1208.0 417.5 1211.5 420.5 1214.1 422.4 1217.7 424.6 1221.5 426.4 1225.2 427.9 1230.1 429.5 1234.0 430.4 1237.1 430.9 1241.2 431.4 1248.5 431.7 1256.1 431.5 1263.9 430.8 1270.8 429.8 1280.2 428.2 1304.9 423.1 1320.6 420.1 1330.0 418.5 1342.3 416.6 1356.4 414.7 1369.5 413.2 1411.9 409.0 1427.8 407.2 1450.6 404.4 1467.3 402.1 1494.8 397.8 1512.3 394.7 1526.7 392.0 1544.9 388.4 1561.5 384.9 1578.4 381.1 1593.7 377.5 1611.1 373.1 1628.7 368.4 1675.0 355.1 1689.4 350.6 1706.0 345.2 1722.8 339.5 1735.6 334.9 1750.6 329.4 1765.7 323.5 1787.6 314.4 1821.0 299.8 1880.3 273.2" fill="none" stroke="#A5609D" stroke-width="3.85" stroke-linejoin="round"/>
<path d="M1157.1 146.7 1160.3 188.3 1164.3 244.4 1165.6 258.8 1167.4 275.7 1169.8 294.2 1172.0 308.1 1174.2 321.6 1178.3 346.0 1182.2 369.4 1184.2 379.4 1185.5 385.0 1186.9 389.8 1189.0 396.1 1191.2 401.6 1194.2 408.1 1197.3 413.8 1200.5 418.9 1203.0 422.4 1206.3 426.6 1208.8 429.2 1211.5 431.5 1215.0 434.1 1218.7 436.2 1222.4 438.0 1226.2 439.4 1230.1 440.7 1235.0 441.8 1241.2 442.7 1248.5 443.1 1255.0 443.0 1262.8 442.4 1269.6 441.6 1279.0 440.1 1306.2 435.2 1321.9 432.5 1332.7 430.9 1342.3 429.6 1355.0 428.2 1366.5 427.1 1415.1 423.2 1429.4 421.9 1450.6 419.6 1470.7 417.2 1482.6 415.6 1498.2 413.2 1512.3 410.9 1526.7 408.4 1544.9 405.0 1561.5 401.7 1576.5 398.5 1589.8 395.5 1609.1 390.8 1624.8 386.8 1640.6 382.4 1670.9 373.8 1685.2 369.5 1701.8 364.2 1716.5 359.4 1733.4 353.4 1750.6 347.1 1765.7 341.3 1789.8 331.3 1821.0 317.8 1880.3 291.1" fill="none" stroke="#929600" stroke-width="3.85" stroke-linejoin="round" stroke-dasharray="10.1 8.6" stroke-dashoffset="-10.70"/>
<path d="M1157.1 158.8 1160.3 199.1 1164.3 256.0 1165.6 270.5 1167.4 287.4 1169.3 302.2 1172.0 319.5 1178.3 357.2 1181.5 377.1 1183.5 387.6 1185.5 396.1 1186.9 400.8 1189.0 407.0 1191.2 412.4 1194.2 418.8 1196.5 423.2 1200.5 429.8 1203.0 433.4 1206.3 437.6 1208.8 440.3 1211.5 442.7 1215.0 445.3 1218.7 447.4 1222.4 449.3 1226.2 450.8 1231.1 452.3 1235.0 453.2 1241.2 454.1 1248.5 454.6 1253.9 454.6 1261.7 454.2 1269.6 453.3 1277.8 452.2 1302.4 448.2 1320.6 445.5 1330.0 444.2 1339.5 443.2 1347.9 442.4 1363.6 441.1 1408.8 438.4 1429.4 437.0 1450.6 435.2 1469.0 433.3 1482.6 431.7 1498.2 429.6 1514.1 427.2 1526.7 425.2 1541.2 422.7 1557.8 419.7 1576.5 415.9 1589.8 413.0 1607.2 409.0 1624.8 404.6 1640.6 400.3 1668.8 392.4 1683.2 388.2 1701.8 382.3 1716.5 377.5 1731.3 372.4 1746.3 366.9 1765.7 359.6 1792.0 348.7 1827.7 333.2 1880.3 309.5" fill="none" stroke="#E95536" stroke-width="3.85" stroke-linejoin="round"/>
<path d="M1157.1 171.0 1160.3 210.0 1164.3 267.7 1165.6 282.4 1166.9 295.3 1168.8 310.4 1172.0 331.0 1178.3 368.6 1182.2 392.4 1183.5 399.1 1184.8 404.8 1186.2 409.7 1188.3 416.1 1191.2 423.4 1193.5 428.2 1196.5 434.1 1199.7 439.5 1203.0 444.4 1206.3 448.8 1208.8 451.6 1211.5 454.0 1215.0 456.6 1218.7 458.8 1222.4 460.7 1226.2 462.3 1230.1 463.6 1235.0 464.8 1241.2 465.8 1247.5 466.3 1253.9 466.4 1260.5 466.1 1268.5 465.4 1277.8 464.3 1304.9 460.4 1319.2 458.6 1328.6 457.6 1339.5 456.6 1353.6 455.6 1366.5 455.0 1411.9 453.3 1426.2 452.6 1449.0 451.2 1470.7 449.4 1482.6 448.2 1498.2 446.4 1510.6 444.8 1526.7 442.4 1543.0 439.9 1559.7 437.0 1572.8 434.5 1587.9 431.4 1607.2 427.1 1624.8 422.8 1640.6 418.6 1668.8 410.9 1687.3 405.4 1701.8 400.9 1716.5 396.1 1731.3 391.0 1748.4 384.8 1763.5 379.1 1774.4 374.8 1789.8 368.4 1807.5 360.8 1825.5 353.0 1880.3 328.3" fill="none" stroke="#6685D9" stroke-width="3.85" stroke-linejoin="round" stroke-dasharray="10.1 8.6" stroke-dashoffset="-12.00"/>
<path d="M1157.1 183.3 1159.0 203.9 1160.3 221.0 1163.5 268.4 1164.7 284.7 1166.0 298.9 1167.4 311.2 1168.8 322.3 1170.9 336.0 1178.3 380.2 1181.5 400.3 1182.8 407.5 1184.8 416.2 1186.2 421.0 1188.3 427.2 1190.5 432.7 1193.5 439.3 1196.5 445.2 1200.5 451.9 1203.8 456.8 1206.3 460.1 1208.8 462.9 1211.5 465.4 1215.0 468.1 1218.7 470.4 1222.4 472.3 1226.2 473.9 1230.1 475.3 1235.0 476.6 1240.1 477.5 1246.4 478.1 1251.8 478.3 1258.3 478.2 1266.2 477.7 1274.3 476.9 1303.7 473.4 1317.9 471.9 1327.3 471.1 1339.5 470.3 1350.8 469.7 1365.1 469.3 1410.4 468.7 1429.4 468.2 1452.2 467.2 1469.0 466.1 1484.4 464.9 1498.2 463.5 1514.1 461.7 1528.5 459.8 1541.2 458.0 1557.8 455.4 1570.9 453.1 1586.0 450.2 1607.2 445.7 1622.8 442.0 1640.6 437.5 1662.8 431.5 1681.1 426.3 1695.6 421.9 1712.3 416.5 1729.2 410.8 1748.4 403.9 1765.7 397.4 1792.0 386.7 1812.0 378.2 1830.0 370.3 1880.3 347.6" fill="none" stroke="#F89F13" stroke-width="3.85" stroke-linejoin="round"/>
<path d="M1157.1 195.7 1159.0 215.4 1160.3 232.1 1163.5 280.1 1164.7 296.7 1165.6 306.5 1166.9 319.4 1168.8 334.3 1172.0 354.5 1178.3 391.8 1181.5 412.1 1182.8 419.3 1184.2 425.2 1185.5 430.2 1187.6 436.6 1189.8 442.2 1192.7 448.9 1196.5 456.4 1199.7 461.9 1203.0 467.0 1206.3 471.6 1208.8 474.5 1211.5 477.0 1214.1 479.1 1217.7 481.6 1221.5 483.6 1225.2 485.4 1230.1 487.1 1234.0 488.3 1239.1 489.3 1244.3 490.0 1249.6 490.4 1256.1 490.4 1262.8 490.2 1270.8 489.6 1299.8 486.8 1314.0 485.5 1325.9 484.7 1338.2 484.2 1350.8 483.9 1366.5 483.8 1407.2 484.2 1427.8 484.3 1449.0 483.9 1470.7 483.0 1486.1 482.0 1500.0 480.9 1514.1 479.5 1526.7 478.1 1544.9 475.7 1557.8 473.8 1569.0 472.0 1584.1 469.4 1603.3 465.6 1622.8 461.2 1640.6 456.8 1662.8 450.9 1681.1 445.7 1697.7 440.7 1714.4 435.4 1729.2 430.4 1748.4 423.5 1765.7 417.0 1778.8 411.8 1796.4 404.5 1816.5 396.0 1836.8 387.1 1880.3 367.4" fill="none" stroke="#BC5B80" stroke-width="3.85" stroke-linejoin="round" stroke-dasharray="10.1 8.6" stroke-dashoffset="-13.30"/>
<path d="M1157.1 208.3 1158.7 224.4 1160.0 239.5 1161.3 256.9 1164.3 303.5 1165.6 318.7 1166.9 331.7 1168.8 346.5 1172.0 366.4 1178.3 403.6 1181.5 424.1 1182.8 431.2 1184.2 437.0 1185.5 441.8 1187.6 448.1 1189.8 453.6 1192.7 460.2 1196.5 467.7 1199.7 473.3 1203.0 478.5 1206.3 483.2 1208.8 486.2 1212.3 489.5 1215.0 491.6 1218.7 494.0 1222.4 496.0 1226.2 497.8 1231.1 499.5 1235.0 500.6 1240.1 501.6 1246.4 502.4 1252.8 502.7 1259.4 502.7 1273.1 502.0 1299.8 499.8 1314.0 498.9 1325.9 498.4 1339.5 498.2 1349.3 498.2 1362.2 498.5 1405.7 500.0 1426.2 500.6 1450.6 500.7 1470.7 500.3 1484.4 499.7 1498.2 498.9 1512.3 497.9 1526.7 496.5 1539.4 495.1 1555.9 493.0 1570.9 490.8 1584.1 488.6 1601.4 485.4 1618.9 481.7 1636.7 477.5 1658.7 471.9 1675.0 467.4 1691.4 462.6 1708.1 457.4 1727.1 451.1 1739.8 446.6 1759.2 439.5 1772.2 434.5 1792.0 426.5 1812.0 418.1 1832.2 409.4 1857.2 398.2 1880.3 387.7" fill="none" stroke="#47B66D" stroke-width="3.85" stroke-linejoin="round"/>
<path d="M1157.1 221.0 1158.7 236.3 1160.0 250.9 1161.3 268.3 1164.3 315.7 1165.6 331.1 1166.9 344.1 1168.8 358.8 1170.9 372.0 1178.3 415.6 1181.5 436.2 1182.8 443.3 1184.2 448.9 1186.2 455.8 1188.3 461.6 1191.2 468.5 1193.5 473.2 1196.5 479.2 1201.3 487.5 1204.6 492.6 1207.1 496.0 1209.7 498.9 1212.3 501.4 1215.0 503.6 1218.7 506.0 1222.4 508.1 1227.2 510.3 1231.1 511.7 1235.0 512.9 1239.1 513.8 1245.3 514.6 1250.7 515.1 1257.2 515.2 1269.6 514.9 1294.8 513.4 1307.5 512.7 1321.9 512.4 1336.8 512.5 1349.3 512.8 1360.7 513.3 1408.8 516.3 1429.4 517.4 1452.2 518.0 1474.1 518.0 1487.8 517.6 1500.0 517.1 1515.9 516.2 1528.5 515.2 1543.0 513.8 1555.9 512.3 1569.0 510.6 1582.2 508.6 1599.5 505.6 1615.0 502.6 1632.7 498.7 1646.6 495.3 1664.8 490.6 1683.2 485.5 1701.8 479.8 1722.8 473.0 1742.0 466.3 1759.2 460.0 1774.4 454.2 1792.0 447.1 1809.8 439.7 1832.2 430.1 1859.5 417.9 1880.3 408.4" fill="none" stroke="#5E81B5" stroke-width="3.85" stroke-linejoin="round" stroke-dasharray="10.1 8.6" stroke-dashoffset="-14.50"/>
<path d="M1157.1 233.8 1157.1 234.8 1159.0 250.6 1160.3 266.2 1161.3 279.8 1164.3 328.0 1165.6 343.6 1166.9 356.6 1168.8 371.2 1170.9 384.3 1178.3 427.6 1181.5 448.4 1182.8 455.5 1184.2 461.0 1186.2 467.6 1188.3 473.3 1190.5 478.5 1193.5 484.8 1196.5 490.8 1201.3 499.2 1204.6 504.5 1207.1 507.9 1209.7 510.9 1212.3 513.5 1215.0 515.7 1218.7 518.2 1222.4 520.4 1226.2 522.2 1230.1 523.7 1234.0 525.0 1239.1 526.2 1243.2 526.9 1248.5 527.5 1255.0 527.9 1266.2 527.8 1296.1 526.6 1307.5 526.4 1321.9 526.4 1336.8 526.9 1349.3 527.6 1363.6 528.7 1408.8 532.8 1429.4 534.4 1449.0 535.4 1470.7 536.0 1486.1 536.1 1503.5 535.7 1519.5 535.0 1530.3 534.3 1544.9 533.1 1557.8 531.8 1570.9 530.3 1584.1 528.4 1603.3 525.2 1618.9 522.3 1634.7 518.9 1650.6 515.1 1666.8 510.9 1685.2 505.8 1703.9 500.1 1720.7 494.6 1739.8 488.0 1759.2 480.9 1778.8 473.4 1798.7 465.4 1816.5 458.0 1836.8 449.3 1855.0 441.2 1880.3 429.6" fill="none" stroke="#E19C24" stroke-width="3.85" stroke-linejoin="round"/>
</svg>
</body></html>
